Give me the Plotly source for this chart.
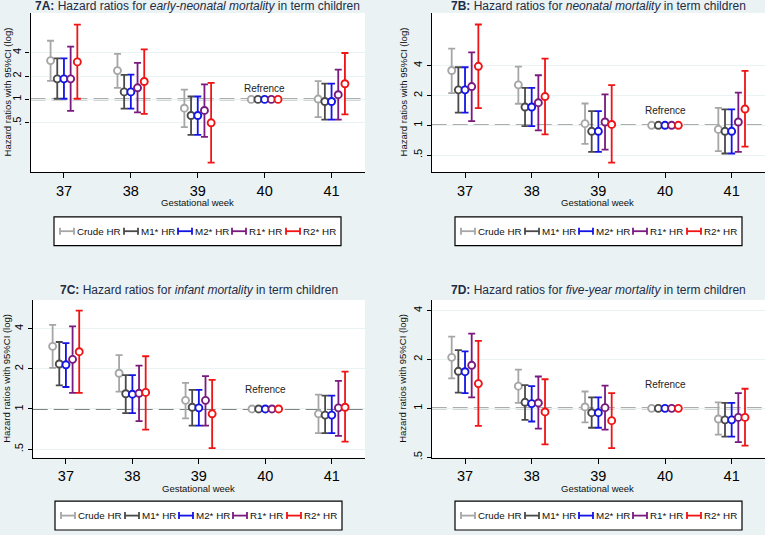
import numpy as np
import plotly.graph_objects as go

# ---------------- data ----------------
weeks = [37, 38, 39, 40, 41]
series_names = ["Crude HR", "M1* HR", "M2* HR", "R1* HR", "R2* HR"]

panel_titles = [
    "<b>7A:</b> Hazard ratios for <i>early-neonatal mortality</i> in term children",
    "<b>7B:</b> Hazard ratios for <i>neonatal mortality</i> in term children",
    "<b>7C:</b> Hazard ratios for <i>infant mortality</i> in term children",
    "<b>7D:</b> Hazard ratios for <i>five-year mortality</i> in term children",
]
y_tick_vals = [0.5, 1, 2, 4]
y_tick_text = [".5", "1", "2", "4"]
ref_label = "Refrence"

# rows = series (Crude, M1, M2, R1, R2); columns = weeks 37..41
A_hr = [[3.16, 2.35, 0.77, 1, 1.01],
        [1.84, 1.25, 0.62, 1, 0.94],
        [1.84, 1.25, 0.62, 1, 0.94],
        [1.84, 1.41, 0.72, 1, 1.15],
        [3.04, 1.70, 0.50, 1, 1.59]]
A_lo = [[1.73, 1.41, 0.44, 1, 0.59],
        [1.02, 0.76, 0.35, 1, 0.55],
        [1.02, 0.76, 0.35, 1, 0.55],
        [0.71, 0.68, 0.33, 1, 0.55],
        [1.02, 0.65, 0.153, 1, 0.64]]
A_hi = [[5.70, 3.85, 1.34, 1, 1.72],
        [3.38, 2.07, 1.09, 1, 1.60],
        [3.38, 2.09, 1.09, 1, 1.60],
        [4.78, 2.95, 1.56, 1, 2.42],
        [9.20, 4.41, 1.63, 1, 3.96]]

B_hr = [[3.57, 2.56, 1.04, 1, 0.91],
        [2.28, 1.53, 0.87, 1, 0.87],
        [2.28, 1.53, 0.87, 1, 0.87],
        [2.46, 1.69, 1.08, 1, 1.08],
        [3.94, 1.95, 1.02, 1, 1.46]]
B_lo = [[2.11, 1.65, 0.65, 1, 0.55],
        [1.34, 0.98, 0.54, 1, 0.52],
        [1.34, 0.98, 0.54, 1, 0.52],
        [1.10, 0.89, 0.57, 1, 0.54],
        [1.49, 0.81, 0.42, 1, 0.61]]
B_hi = [[5.93, 3.91, 1.66, 1, 1.50],
        [3.85, 2.39, 1.39, 1, 1.45],
        [3.85, 2.39, 1.39, 1, 1.45],
        [5.44, 3.20, 2.05, 1, 2.14],
        [10.4, 4.70, 2.54, 1, 3.54]]

C_hr = [[2.94, 1.85, 1.16, 1, 0.92],
        [2.17, 1.30, 1.03, 1, 0.90],
        [2.14, 1.29, 1.02, 1, 0.90],
        [2.35, 1.31, 1.16, 1, 1.02],
        [2.68, 1.33, 0.92, 1, 1.03]]
C_lo = [[2.03, 1.35, 0.85, 1, 0.66],
        [1.50, 0.93, 0.75, 1, 0.66],
        [1.46, 0.93, 0.75, 1, 0.66],
        [1.32, 0.81, 0.75, 1, 0.63],
        [1.32, 0.70, 0.51, 1, 0.57]]
C_hi = [[4.26, 2.53, 1.57, 1, 1.28],
        [3.17, 1.79, 1.39, 1, 1.26],
        [3.11, 1.79, 1.39, 1, 1.26],
        [4.14, 2.11, 1.76, 1, 1.62],
        [5.44, 2.48, 1.65, 1, 1.90]]

D_hr = [[2.06, 1.37, 1.02, 1, 0.86],
        [1.69, 1.09, 0.94, 1, 0.85],
        [1.68, 1.07, 0.94, 1, 0.85],
        [1.84, 1.08, 1.01, 1, 0.88],
        [1.42, 0.95, 0.84, 1, 0.88]]
D_lo = [[1.53, 1.08, 0.82, 1, 0.69],
        [1.25, 0.85, 0.76, 1, 0.67],
        [1.24, 0.83, 0.76, 1, 0.67],
        [1.17, 0.75, 0.74, 1, 0.62],
        [0.78, 0.60, 0.57, 1, 0.59]]
D_hi = [[2.76, 1.73, 1.27, 1, 1.09],
        [2.28, 1.39, 1.17, 1, 1.08],
        [2.24, 1.37, 1.17, 1, 1.08],
        [2.88, 1.57, 1.38, 1, 1.24],
        [2.60, 1.51, 1.24, 1, 1.32]]

# ---------------- styling / layout ----------------
W, H = 765, 535
FONT = "Liberation Sans, Arial, sans-serif"
colors = ["#A6A6A6", "#4A4A4A", "#1414E6", "#7A1A7E", "#F01414"]
dodge = [-0.2, -0.1, 0.0, 0.1, 0.2]
bg = "#EAF2F3"
title_color = "#1E2B45"

def px_x(p):
    return p / W

def px_y(p):
    return 1 - p / H

# panel geometry in pixels: (left, right, top, bottom), y-range (log), legend box
panels = [
    dict(hr=A_hr, lo=A_lo, hi=A_hi, l=30.5, r=365, t=13, b=173, yr=(0.116, 13.0),
         title_y=6, xt_y=204, leg=(54, 218, 341, 247), ytx=7),
    dict(hr=B_hr, lo=B_lo, hi=B_hi, l=431.7, r=765, t=13, b=173, yr=(0.338, 13.6),
         title_y=6, xt_y=204, leg=(455, 218, 742, 247), ytx=403),
    dict(hr=C_hr, lo=C_lo, hi=C_hi, l=32.7, r=365, t=301.7, b=460.3, yr=(0.432, 6.53),
         title_y=292, xt_y=491, leg=(55, 504, 342, 533), ytx=7),
    dict(hr=D_hr, lo=D_lo, hi=D_hi, l=431.7, r=765, t=301.7, b=460.3, yr=(0.497, 4.64),
         title_y=292, xt_y=491, leg=(455, 504, 742, 533), ytx=403),
]

fig = go.Figure()
shapes = []
annotations = []
layout_axes = {}

leg_item_off = [6, 70, 124, 178, 232]

for k, p in enumerate(panels):
    n = k + 1
    xa = "x" if n == 1 else f"x{n}"
    ya = "y" if n == 1 else f"y{n}"
    xkey = "xaxis" if n == 1 else f"xaxis{n}"
    ykey = "yaxis" if n == 1 else f"yaxis{n}"

    # data traces
    for s in range(5):
        hr = np.array(p["hr"][s], dtype=float)
        lo = np.array(p["lo"][s], dtype=float)
        hi = np.array(p["hi"][s], dtype=float)
        xs = np.array(weeks, dtype=float) + dodge[s]
        fig.add_trace(go.Scatter(
            x=xs, y=hr, mode="markers", xaxis=xa, yaxis=ya,
            name=series_names[s], showlegend=False,
            marker=dict(symbol="circle", size=7, color="white",
                        line=dict(color=colors[s], width=1.9)),
            error_y=dict(type="data", symmetric=False, array=hi - hr,
                         arrayminus=hr - lo, color=colors[s], thickness=1.8,
                         width=3.5),
            cliponaxis=False,
        ))

    layout_axes[xkey] = dict(
        domain=[px_x(p["l"]), px_x(p["r"])], anchor=ya,
        range=[36.5, 41.5], tickvals=weeks, ticktext=[str(w) for w in weeks],
        showline=True, linecolor="#000000", linewidth=1.2, ticks="outside",
        ticklen=5, tickcolor="#000000", tickwidth=1.2, showgrid=False,
        zeroline=False, tickfont=dict(family=FONT, size=14.5, color="#000000"),
        fixedrange=True,
    )
    layout_axes[ykey] = dict(
        domain=[px_y(p["b"]), px_y(p["t"])], anchor=xa, type="log",
        range=[np.log10(p["yr"][0]), np.log10(p["yr"][1])],
        tickvals=y_tick_vals, ticktext=y_tick_text, tickangle=-90,
        showline=True, linecolor="#000000", linewidth=1.2, ticks="outside",
        ticklen=4, tickcolor="#000000", tickwidth=1.2, showgrid=True,
        gridcolor=bg, gridwidth=1.2, zeroline=False,
        tickfont=dict(family=FONT, size=11, color="#000000"),
        fixedrange=True,
    )

    # reference dashed line at HR = 1
    shapes.append(dict(type="line", xref=f"{xa} domain", yref=ya, x0=0, x1=1,
                       y0=1, y1=1, layer="below",
                       line=dict(color="#5A5A5A", width=1.6, dash="15px,6px")))

    # "Refrence" label
    annotations.append(dict(xref=xa, yref=ya, x=weeks[3], y=np.log10(1.40),
                            text=ref_label, showarrow=False,
                            font=dict(family=FONT, size=10, color="#222222")))

    # panel title
    annotations.append(dict(xref="paper", yref="paper",
                            x=px_x((p["l"] + p["r"]) / 2), y=px_y(p["title_y"]),
                            xanchor="center", yanchor="middle", text=panel_titles[k],
                            showarrow=False,
                            font=dict(family=FONT, size=12, color=title_color)))
    # y axis title
    annotations.append(dict(xref="paper", yref="paper", x=px_x(p["ytx"]),
                            y=px_y((p["t"] + p["b"]) / 2), xanchor="center",
                            yanchor="middle", textangle=-90,
                            text="Hazard ratios with 95%CI (log)", showarrow=False,
                            font=dict(family=FONT, size=9.5, color="#111111")))
    # x axis title
    annotations.append(dict(xref="paper", yref="paper",
                            x=px_x((p["l"] + p["r"]) / 2 - 0.5), y=px_y(p["xt_y"]),
                            xanchor="center", yanchor="middle",
                            text="Gestational week", showarrow=False,
                            font=dict(family=FONT, size=9.5, color="#111111")))

    # legend box
    lx0, ly0, lx1, ly1 = p["leg"]
    shapes.append(dict(type="rect", xref="paper", yref="paper",
                       x0=px_x(lx0), x1=px_x(lx1), y0=px_y(ly1), y1=px_y(ly0),
                       fillcolor="white", line=dict(color="#000000", width=1.2)))
    cy = (ly0 + ly1) / 2
    for s in range(5):
        ix = lx0 + leg_item_off[s]
        c = colors[s]
        lw = 1.8
        shapes.append(dict(type="line", xref="paper", yref="paper",
                           x0=px_x(ix), x1=px_x(ix + 14), y0=px_y(cy), y1=px_y(cy),
                           line=dict(color=c, width=lw)))
        for ex in (ix, ix + 14):
            shapes.append(dict(type="line", xref="paper", yref="paper",
                               x0=px_x(ex), x1=px_x(ex), y0=px_y(cy - 3.5),
                               y1=px_y(cy + 3.5), line=dict(color=c, width=lw)))
        annotations.append(dict(xref="paper", yref="paper", x=px_x(ix + 15),
                                y=px_y(cy), xanchor="left", yanchor="middle",
                                text=series_names[s], showarrow=False,
                                font=dict(family=FONT, size=9.8, color="#111111")))

fig.update_layout(
    width=W, height=H, margin=dict(l=0, r=0, t=0, b=0),
    paper_bgcolor=bg, plot_bgcolor="white", showlegend=False,
    shapes=shapes, annotations=annotations, font=dict(family=FONT),
    **layout_axes,
)

fig.write_html(
    "out.html",
    config={"displayModeBar": False},
    post_script="document.body.style.margin='0';document.body.style.background='#EAF2F3';",
)
